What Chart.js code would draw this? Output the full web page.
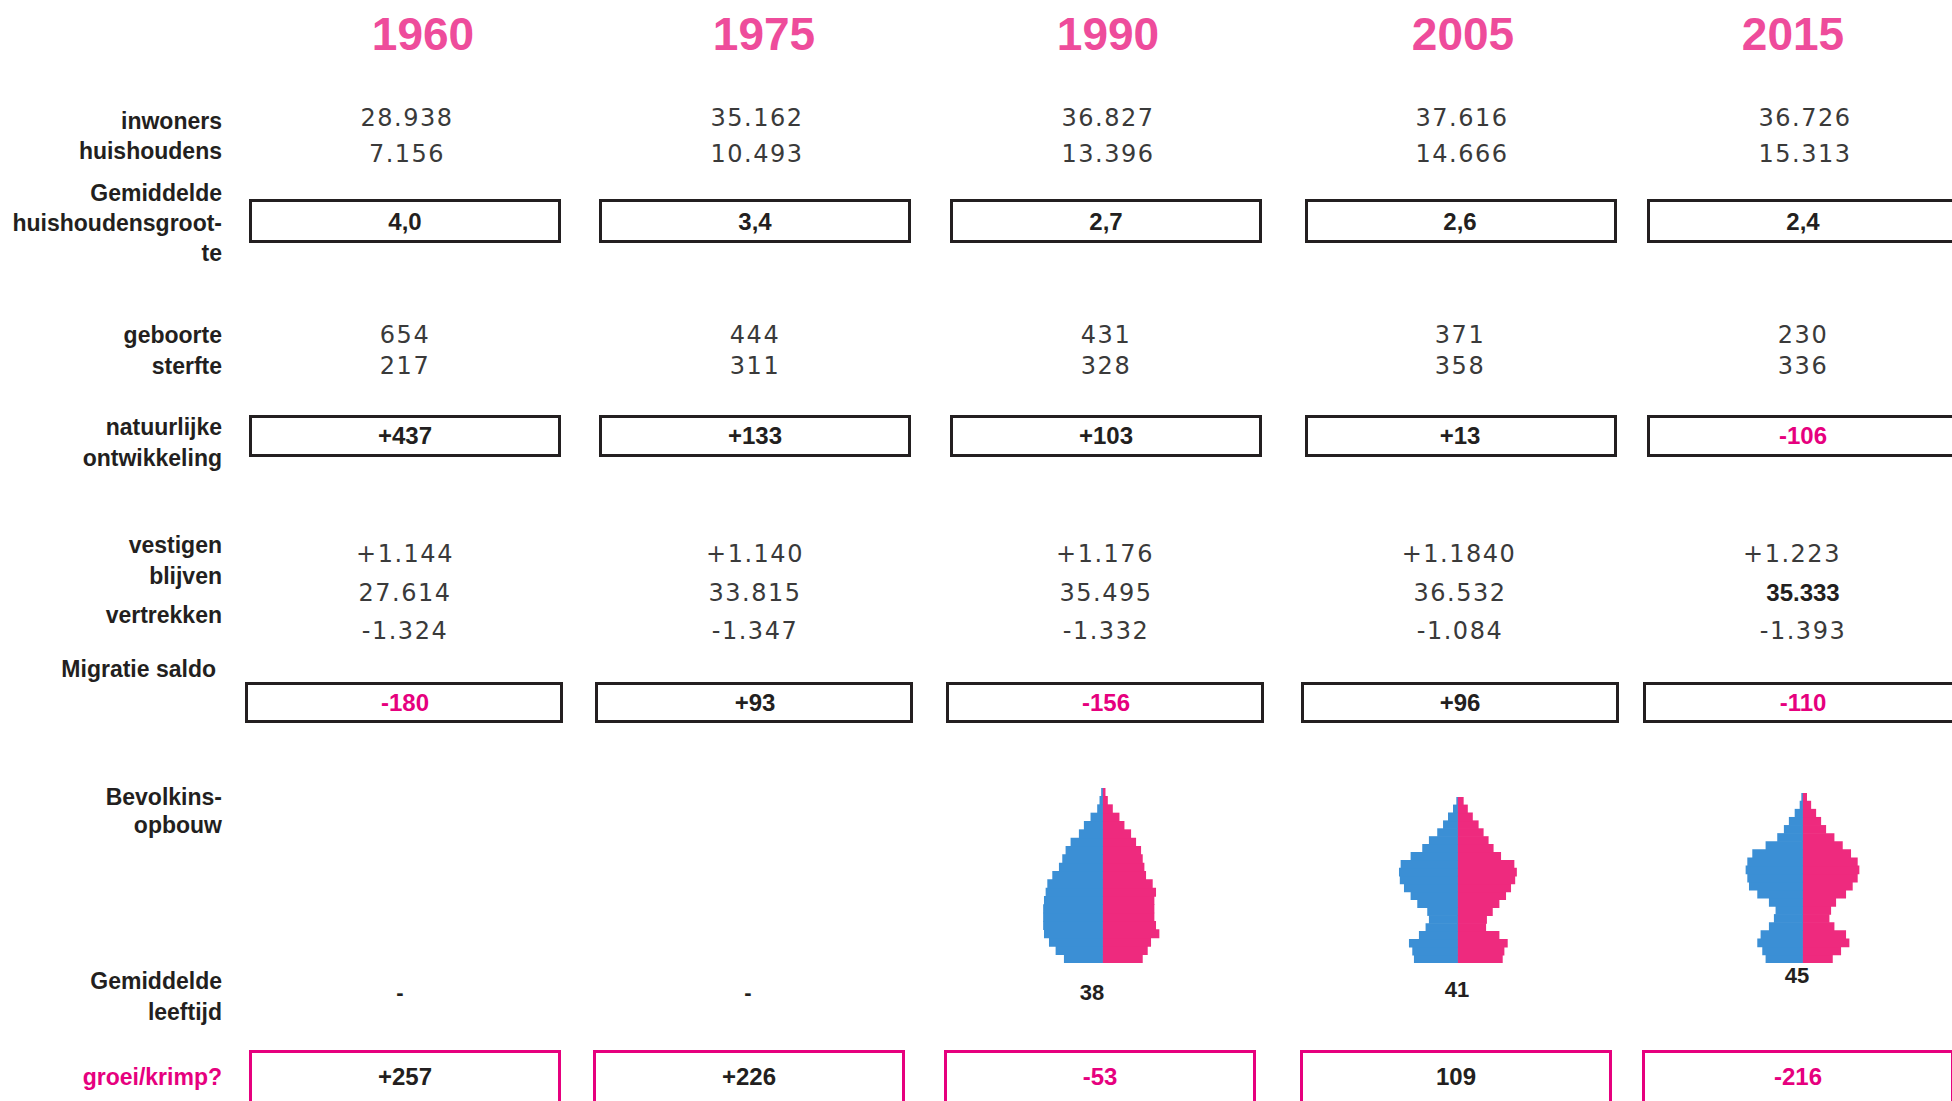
<!DOCTYPE html>
<html lang="nl">
<head>
<meta charset="utf-8">
<title>Bevolkingsontwikkeling 1960 - 2015</title>
<script src="https://cdn.jsdelivr.net/npm/chart.js@4/dist/chart.umd.min.js"></script>
<style>
  html, body { margin: 0; padding: 0; background: #fff; }
  #page { position: relative; width: 1952px; height: 1101px; overflow: hidden; font-family: "Liberation Sans", Arial, sans-serif; color: #231f20; }
  .t { position: absolute; white-space: nowrap; line-height: 1; transform: translate(-50%, -50%); }
  .lbl { position: absolute; white-space: nowrap; line-height: 1; transform: translate(-100%, -50%); font-weight: bold; font-size: 23px; }
  .jaar { font-weight: bold; font-size: 46px; color: #ee4c9b; }
  .num { font-family: "DejaVu Sans", sans-serif; font-weight: normal; font-size: 24px; letter-spacing: 1.5px; color: #3a3a3a; }
  .vet { font-weight: bold; font-size: 24px; }
  .klein { font-weight: bold; font-size: 22px; }
  .roze { color: #e6007e; }
  .box { position: absolute; box-sizing: border-box; border: 3px solid #231f20; }
  .box.roze { border-color: #e6007e; }
  .pyr { position: absolute; }
</style>
</head>
<body>
<div id="page">
  <canvas id="pyr1990" class="pyr" width="133" height="175" style="left:1036px;top:788px"></canvas>
  <canvas id="pyr2005" class="pyr" width="133" height="166" style="left:1391px;top:797px"></canvas>
  <canvas id="pyr2015" class="pyr" width="133" height="170" style="left:1736px;top:793px"></canvas>
</div>
<script>
// gegevens per jaar
const jaren = ['1960', '1975', '1990', '2005', '2015'];
const inwoners = ['28.938', '35.162', '36.827', '37.616', '36.726'];
const huishoudens = ['7.156', '10.493', '13.396', '14.666', '15.313'];
const huishoudensgrootte = ['4,0', '3,4', '2,7', '2,6', '2,4'];
const geboorte = ['654', '444', '431', '371', '230'];
const sterfte = ['217', '311', '328', '358', '336'];
const natuurlijk = ['+437', '+133', '+103', '+13', '-106'];
const vestigen = ['+1.144', '+1.140', '+1.176', '+1.1840', '+1.223'];
const blijven = ['27.614', '33.815', '35.495', '36.532', '35.333'];
const vertrekken = ['-1.324', '-1.347', '-1.332', '-1.084', '-1.393'];
const migratieSaldo = ['-180', '+93', '-156', '+96', '-110'];
const gemLeeftijd = ['-', '-', '38', '41', '45'];
const groeiKrimp = ['+257', '+226', '-53', '109', '-216'];

// bevolkingsopbouw (geschat uit de piramides), jong -> oud
const leeftijdsgroepen = ['0-4', '5-9', '10-14', '15-19', '20-24', '25-29', '30-34', '35-39', '40-44', '45-49',
  '50-54', '55-59', '60-64', '65-69', '70-74', '75-79', '80-84', '85-89', '90-94', '95-99', '100+'];
const mannen1990 = [920, 1120, 1280, 1400, 1420, 1420, 1420, 1400, 1360, 1320, 1200, 1040, 960, 880, 760, 560, 440, 280, 120, 64, 24];
const vrouwen1990 = [960, 1080, 1160, 1360, 1280, 1240, 1240, 1240, 1280, 1200, 1040, 1000, 960, 920, 800, 680, 520, 400, 240, 120, 64];
const mannen2005 = [1040, 1080, 1160, 920, 760, 680, 720, 960, 1120, 1280, 1380, 1400, 1360, 1120, 840, 680, 480, 340, 220, 100, 20];
const vrouwen2005 = [1080, 1120, 1200, 1000, 680, 700, 840, 1000, 1160, 1280, 1380, 1420, 1360, 1040, 860, 740, 620, 500, 360, 240, 140];
const mannen2015 = [880, 960, 1080, 1000, 800, 680, 640, 800, 1080, 1280, 1320, 1360, 1320, 1200, 880, 600, 440, 320, 180, 60, 20];
const vrouwen2015 = [720, 920, 1120, 1040, 760, 640, 680, 800, 1040, 1200, 1320, 1360, 1320, 1160, 960, 760, 560, 440, 320, 200, 100];

const page = document.getElementById('page');

function tekst(txt, x, y, cls) {
  const d = document.createElement('div');
  d.className = cls;
  d.textContent = txt;
  d.style.left = x + 'px';
  d.style.top = y + 'px';
  page.appendChild(d);
  return d;
}

function kader(x1, x2, y, h, roze) {
  const d = document.createElement('div');
  d.className = roze ? 'box roze' : 'box';
  d.style.left = x1 + 'px';
  d.style.top = y + 'px';
  d.style.width = (x2 - x1) + 'px';
  d.style.height = h + 'px';
  page.appendChild(d);
}

const kolom = [405, 755, 1106, 1460, 1803];
const isNeg = v => v.length > 1 && v[0] === '-';

// labels links
const labels = [
  ['inwoners', 121], ['huishoudens', 151],
  ['Gemiddelde', 193], ['huishoudensgroot-', 223], ['te', 253],
  ['geboorte', 335], ['sterfte', 366],
  ['natuurlijke', 427], ['ontwikkeling', 458],
  ['vestigen', 545], ['blijven', 576], ['vertrekken', 615],
  ['Bevolkins-', 797], ['opbouw', 825],
  ['Gemiddelde', 981], ['leeftijd', 1012]
];
labels.forEach(l => tekst(l[0], 222, l[1], 'lbl'));
tekst('Migratie saldo', 216, 669, 'lbl');
tekst('groei/krimp?', 222, 1077, 'lbl roze');

// jaartallen
const jaarX = [423, 764, 1108, 1463, 1793];
jaren.forEach((j, i) => tekst(j, jaarX[i], 34, 't jaar'));

// kaders
const rij1 = [249, 599, 950, 1305, 1647];
const rij3 = [245, 595, 946, 1301, 1643];
const rij4 = [249, 593, 944, 1300, 1642];
for (let i = 0; i < 5; i++) {
  kader(rij1[i], rij1[i] + 312, 199, 44, false);
  kader(rij1[i], rij1[i] + 312, 415, 42, false);
  kader(rij3[i], rij3[i] + 318, 682, 41, false);
  kader(rij4[i], rij4[i] + 312, 1050, 80, true);
}

// waarden
const vestigenX = [405, 755, 1105, 1459, 1792];
const leeftijdX = [400, 748, 1092, 1457, 1797];
const leeftijdY = [993, 993, 993, 990, 976];
for (let i = 0; i < 5; i++) {
  const x = kolom[i];
  tekst(inwoners[i], x + 2, 118, 't num');
  tekst(huishoudens[i], x + 2, 154, 't num');
  tekst(huishoudensgrootte[i], x, 222, 't vet');
  tekst(geboorte[i], x, 335, 't num');
  tekst(sterfte[i], x, 366, 't num');
  tekst(natuurlijk[i], x, 436, 't vet' + (isNeg(natuurlijk[i]) ? ' roze' : ''));
  tekst(vestigen[i], vestigenX[i], 554, 't num');
  tekst(blijven[i], x, 593, i === 4 ? 't vet' : 't num');
  tekst(vertrekken[i], x, 631, 't num');
  tekst(migratieSaldo[i], x, 703, 't vet' + (isNeg(migratieSaldo[i]) ? ' roze' : ''));
  tekst(gemLeeftijd[i], leeftijdX[i], leeftijdY[i], 't klein');
  tekst(groeiKrimp[i], (rij4[i] + 156), 1077, 't vet' + (isNeg(groeiKrimp[i]) ? ' roze' : ''));
}

// piramides
function piramide(id, mannen, vrouwen) {
  new Chart(document.getElementById(id), {
    type: 'bar',
    data: {
      labels: leeftijdsgroepen,
      datasets: [
        { label: 'mannen', data: mannen.map(v => -v), backgroundColor: '#3b8fd5' },
        { label: 'vrouwen', data: vrouwen, backgroundColor: '#ee2a7e' }
      ]
    },
    options: {
      indexAxis: 'y',
      responsive: false,
      animation: false,
      datasets: { bar: { barPercentage: 1, categoryPercentage: 1, borderWidth: 0 } },
      plugins: { legend: { display: false }, tooltip: { enabled: false } },
      layout: { padding: 0 },
      scales: {
        x: { stacked: true, display: false, min: -1600, max: 1600 },
        y: { stacked: true, display: false, reverse: true }
      }
    }
  });
}

piramide('pyr1990', mannen1990, vrouwen1990);
piramide('pyr2005', mannen2005, vrouwen2005);
piramide('pyr2015', mannen2015, vrouwen2015);
</script>
</body>
</html>
